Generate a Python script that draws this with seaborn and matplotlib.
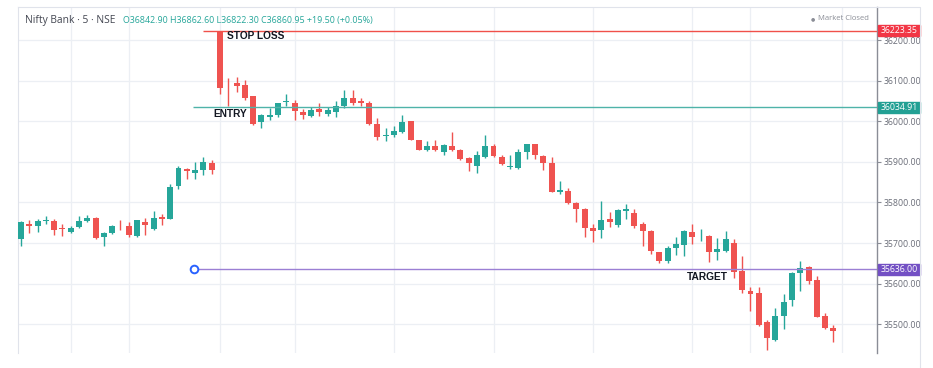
import numpy as np
import pandas as pd
import matplotlib.pyplot as plt
import matplotlib.transforms as mtransforms
from matplotlib.lines import Line2D
from matplotlib.patches import Rectangle
import seaborn as sns

# 5-minute candles (Nifty Bank)
opens = [35710, 35747, 35743, 35755, 35754, 35736, 35728, 35739, 35755, 35763,
         35716, 35726, 35743, 35741, 35718, 35753, 35734, 35765, 35760, 35840,
         35883, 35873, 35879, 35896, 36220, 36088, 36095, 36090, 36063, 35997,
         36010, 36015, 36047, 36045, 36022, 36012, 36030, 36019, 36024, 36037,
         36057, 36049, 36045, 35994, 35963, 35967, 35974, 36001, 35954, 35930,
         35940, 35925, 35940, 35930, 35909, 35891, 35912, 35940, 35912, 35887,
         35886, 35924, 35943, 35914, 35896, 35827, 35828, 35798, 35783, 35737,
         35732, 35759, 35744, 35778, 35774, 35747, 35730, 35677, 35657, 35687,
         35696, 35728, 35714, 35718, 35677, 35681, 35700, 35632, 35581, 35577,
         35506, 35461, 35520, 35559, 35626, 35640, 35608, 35520, 35492]
highs = [35755, 35756, 35759, 35767, 35759, 35747, 35741, 35767, 35769, 35765,
         35728, 35745, 35756, 35752, 35758, 35761, 35779, 35771, 35846, 35889,
         35886, 35899, 35913, 35904, 36223, 36106, 36110, 36102, 36063, 36019,
         36033, 36046, 36068, 36053, 36030, 36035, 36045, 36035, 36049, 36076,
         36076, 36057, 36051, 36008, 35984, 35988, 36016, 36001, 35955, 35951,
         35955, 35944, 35974, 35931, 35912, 35926, 35965, 35945, 35916, 35916,
         35931, 35945, 35943, 35917, 35913, 35853, 35836, 35801, 35787, 35747,
         35804, 35777, 35785, 35796, 35783, 35751, 35733, 35679, 35694, 35716,
         35733, 35748, 35735, 35720, 35712, 35730, 35710, 35669, 35591, 35591,
         35510, 35540, 35575, 35628, 35657, 35643, 35620, 35529, 35499]
lows = [35692, 35726, 35728, 35747, 35720, 35718, 35726, 35736, 35752, 35710,
        35692, 35723, 35733, 35716, 35716, 35720, 35733, 35744, 35759, 35832,
        35859, 35859, 35867, 35869, 36066, 36037, 36073, 36053, 35990, 35984,
        36004, 36011, 36038, 36004, 36006, 36010, 36012, 36012, 36011, 36033,
        36041, 36038, 35990, 35953, 35951, 35962, 35971, 35953, 35929, 35926,
        35926, 35918, 35926, 35904, 35877, 35872, 35909, 35912, 35892, 35883,
        35883, 35906, 35908, 35880, 35826, 35820, 35796, 35751, 35716, 35702,
        35712, 35739, 35740, 35759, 35738, 35692, 35673, 35651, 35651, 35671,
        35669, 35698, 35706, 35653, 35659, 35679, 35615, 35578, 35532, 35497,
        35436, 35458, 35489, 35545, 35581, 35599, 35518, 35489, 35457]
closes = [35751, 35742, 35754, 35757, 35732, 35734, 35737, 35754, 35762, 35712,
          35725, 35741, 35741, 35720, 35756, 35744, 35763, 35760, 35838, 35885,
          35877, 35881, 35899, 35880, 36082, 36086, 36086, 36057, 35992, 36015,
          36015, 36045, 36049, 36026, 36016, 36028, 36024, 36027, 36038, 36057,
          36046, 36046, 35992, 35962, 35966, 35977, 35998, 35955, 35930, 35940,
          35928, 35941, 35929, 35906, 35897, 35916, 35940, 35914, 35894, 35891,
          35924, 35943, 35916, 35897, 35826, 35830, 35798, 35783, 35737, 35730,
          35756, 35751, 35781, 35783, 35741, 35730, 35680, 35657, 35688, 35699,
          35730, 35714, 35716, 35679, 35685, 35710, 35628, 35585, 35575, 35499,
          35467, 35520, 35556, 35626, 35638, 35606, 35518, 35491, 35483]

price_ticks = [35500, 35600, 35700, 35800, 35900, 36000, 36100, 36200]
time_grid = [6, 13, 24, 33, 45, 57, 69, 81, 88, 99]

stop_loss = 36223.35
entry = 36034.91
target = 35636.00

header_title = "Nifty Bank · 5 · NSE"
header_ohlc = "O36842.90 H36862.60 L36822.30 C36860.95 +19.50 (+0.05%)"

UP = '#26a69a'
DOWN = '#ef5350'

sns.set_theme(style="white")
plt.rcParams['font.family'] = ['Open Sans', 'DejaVu Sans']

df = pd.DataFrame({'open': opens, 'high': highs, 'low': lows, 'close': closes})
df['idx'] = np.arange(len(df))
df['color'] = np.where(df['close'] >= df['open'], UP, DOWN)
df['body_lo'] = df[['open', 'close']].min(axis=1)
df['body_h'] = (df['close'] - df['open']).abs().clip(lower=1.5)

fig = plt.figure(figsize=(9.33, 3.68), dpi=100)
ax = fig.add_axes([18 / 933, 15 / 368, (877 - 18) / 933, (361 - 15) / 368])

x_right = 103.26
ax.set_xlim(-0.36, x_right)
ax.set_ylim(35429.4, 36281.3)

# grid
ax.set_xticks(time_grid)
ax.set_yticks(price_ticks)
ax.grid(True, color='#eceff4', lw=0.9)
ax.set_axisbelow(True)

# candles
ax.vlines(df['idx'], df['low'], df['high'], colors=df['color'], lw=1, zorder=2)
ax.bar(df['idx'], df['body_h'], bottom=df['body_lo'], width=0.72,
       color=df['color'], linewidth=0, zorder=3)

# right price scale
ax.yaxis.tick_right()
ax.set_yticklabels([f"{p:.2f}" for p in price_ticks])
ax.tick_params(axis='y', colors='#8a8d96', labelcolor='#6a6d78', labelsize=6.3,
               length=3, width=0.8, pad=2)
ax.tick_params(axis='x', length=0, labelbottom=False)
for side in ['left', 'top']:
    ax.spines[side].set_color('#e0e3eb')
    ax.spines[side].set_linewidth(0.8)
ax.spines['bottom'].set_visible(False)
ax.spines['right'].set_color('#8a8d96')
ax.spines['right'].set_linewidth(1.0)

# outer frame of the price scale
fig.add_artist(Line2D([920 / 933, 920 / 933], [0, 361 / 368], color='#e0e3eb', lw=0.8))
fig.add_artist(Line2D([877 / 933, 920 / 933], [361 / 368, 361 / 368], color='#e0e3eb', lw=0.8))

# trade levels
blend = mtransforms.blended_transform_factory(ax.transAxes, ax.transData)
levels = [
    (stop_loss, 21.9, '#f0504a', '#f23645'),
    (entry, 20.7, '#4fb3a9', '#22a094'),
    (target, 20.9, '#9b7fd4', '#7350c4'),
]
box_w = 42 / 859
box_h = 11 * 2.462
for price, x0, line_c, box_c in levels:
    ax.hlines(price, x0, x_right, color=line_c, lw=1.0, zorder=4)
    ax.add_patch(Rectangle((1.0 + 1 / 859, price - box_h / 2), box_w, box_h,
                           transform=blend, clip_on=False, color=box_c, zorder=6))
    ax.text(1.0 + 1 / 859 + box_w / 2, price, f"{price:.2f}", transform=blend,
            ha='center', va='center', color='white', fontsize=6.3, zorder=7,
            clip_on=False)

ax.plot([20.9], [target], 'o', mfc='white', mec='#2962ff', ms=5.5, mew=1.4, zorder=5)

lbl = dict(family=['Liberation Sans', 'DejaVu Sans'], fontweight='bold',
           fontsize=7.3, color='#131722', va='center', ha='left', zorder=8)
ax.text(24.8, 36210, "STOP LOSS", **lbl)
ax.text(23.2, 36019, "ENTRY", **lbl)
ax.text(80.3, 35617, "TARGET", **lbl)

# header
fig.text(25 / 933, 1 - 20 / 368, header_title, fontsize=7.4, color='#434651',
         va='center', ha='left')
fig.text(123 / 933, 1 - 20 / 368, header_ohlc, fontsize=6.4, color='#26a69a',
         va='center', ha='left')
fig.text(813 / 933, 1 - 19 / 368, "●", fontsize=3.5, color='#8a8d96',
         va='center', ha='center', family=['DejaVu Sans'])
fig.text(818 / 933, 1 - 19 / 368, "Market Closed", fontsize=5.5, color='#8a8d96',
         va='center', ha='left')

fig.savefig("out.png", dpi=100)
